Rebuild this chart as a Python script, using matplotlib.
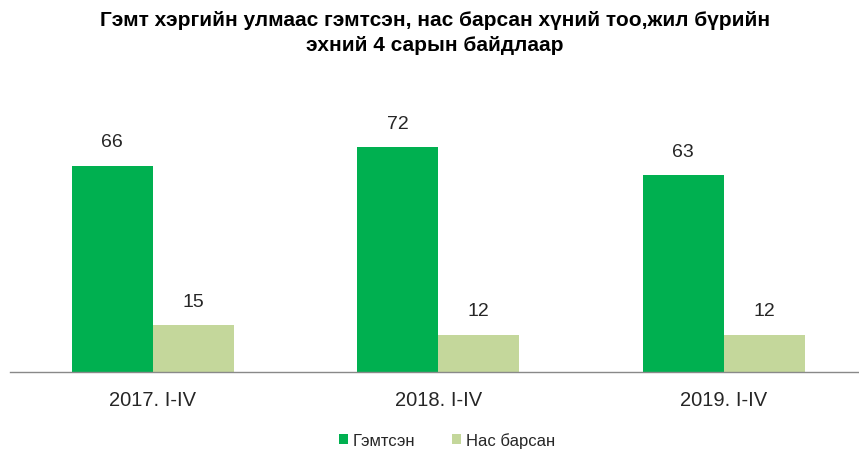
import matplotlib
matplotlib.use("Agg")
import matplotlib.pyplot as plt
import numpy as np

# Өгөгдөл
periods = ["2017. I-IV", "2018. I-IV", "2019. I-IV"]
injured = [66, 72, 63]
deaths = [15, 12, 12]
series_names = ["Гэмтсэн", "Нас барсан"]

c_injured = "#00B050"
c_deaths = "#C4D79B"

plt.rcParams['font.family'] = ['Liberation Sans', 'DejaVu Sans']

fig = plt.figure(figsize=(8.59, 4.52), dpi=100)
ax = fig.add_axes([10 / 859, 79 / 452, 849 / 859, 250 / 452])

x = np.arange(len(periods))
w = 81 / 285.5

b1 = ax.bar(x - w / 2, injured, width=w, color=c_injured, label=series_names[0])
b2 = ax.bar(x + w / 2, deaths, width=w, color=c_deaths, label=series_names[1])

for bars, vals in [(b1, injured), (b2, deaths)]:
    for rect, v in zip(bars, vals):
        ax.annotate(str(v), (rect.get_x() + rect.get_width() / 2, rect.get_height()),
                    xytext=(0, 11), textcoords="offset points",
                    ha="center", va="bottom", fontsize=14, color="#262626")

ax.set_xlim(-0.5, 2.5 - 7.5 / 285.5)
ax.set_ylim(0, 80)
ax.set_xticks(x)
ax.set_xticklabels(periods, fontsize=14.5, color="#262626")
ax.tick_params(axis="x", length=0, pad=13)
ax.set_yticks([])
for s in ["top", "right", "left"]:
    ax.spines[s].set_visible(False)
ax.spines["bottom"].set_color("#898989")
ax.spines["bottom"].set_linewidth(1)

fig.text(435 / 859, 1 - 11 / 452, "Гэмт хэргийн улмаас гэмтсэн, нас барсан хүний тоо,жил бүрийн\nэхний 4 сарын байдлаар",
         ha="center", va="top", fontsize=15, fontweight="bold", color="#000000",
         linespacing=1.4)

fig.legend(handles=[b1, b2], loc="center", bbox_to_anchor=(447 / 859, 1 - 441 / 452),
           ncol=2, frameon=False, fontsize=12, handlelength=0.55, handleheight=0.55,
           handletextpad=0.3, columnspacing=2.2, labelcolor="#262626")

fig.savefig("out.png", dpi=100)
